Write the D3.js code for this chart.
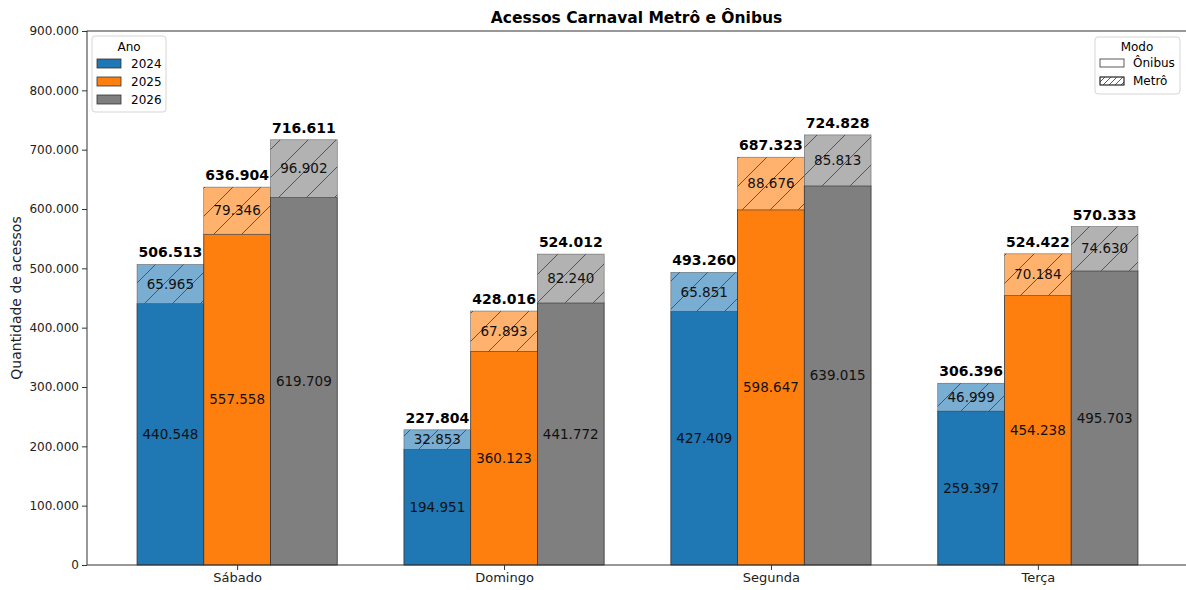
<!DOCTYPE html>
<html>
<head>
<meta charset="utf-8">
<script src="https://cdn.jsdelivr.net/npm/d3@7"></script>
<style>
  body { margin: 0; background: #fff; }
  svg { font-family: "DejaVu Sans", sans-serif; }
</style>
</head>
<body>
<div id="chart"></div>
<script>
const width = 1186, height = 590;

// data
const days = ["Sábado", "Domingo", "Segunda", "Terça"];
const years = ["2024", "2025", "2026"];
const onibus = {
  "2024": [440548, 194951, 427409, 259397],
  "2025": [557558, 360123, 598647, 454238],
  "2026": [619709, 441772, 639015, 495703]
};
const metro = {
  "2024": [65965, 32853, 65851, 46999],
  "2025": [79346, 67893, 88676, 70184],
  "2026": [96902, 82240, 85813, 74630]
};
const yTicks = [0, 100000, 200000, 300000, 400000, 500000, 600000, 700000, 800000, 900000];

const colors = { "2024": "#1f77b4", "2025": "#ff7f0e", "2026": "#7f7f7f" };
const lightColors = { "2024": "#79add2", "2025": "#ffb26e", "2026": "#b2b2b2" };

const fmt = v => d3.format(",")(v).replace(/,/g, ".");

const svg = d3.select("#chart").append("svg")
    .attr("width", width)
    .attr("height", height);

const plot = { left: 87, right: 1188, top: 31, bottom: 565 };
const barW = 0.25;

const x = d3.scaleLinear()
    .domain([-0.5625, 3.5625])
    .range([plot.left, plot.right]);

const y = d3.scaleLinear()
    .domain([0, 900000])
    .range([plot.bottom, plot.top]);

// hatch pattern
const defs = svg.append("defs");
const hatch = defs.append("pattern")
    .attr("id", "hatch")
    .attr("patternUnits", "userSpaceOnUse")
    .attr("width", 28)
    .attr("height", 28);
hatch.append("path")
    .attr("d", "M0,28 L28,0 M-7,7 L7,-7 M21,35 L35,21")
    .attr("stroke", "#4a4a4a")
    .attr("stroke-width", 0.9);

const hatchSmall = defs.append("pattern")
    .attr("id", "hatchSmall")
    .attr("patternUnits", "userSpaceOnUse")
    .attr("width", 6)
    .attr("height", 6);
hatchSmall.append("path")
    .attr("d", "M0,6 L6,0 M-1.5,1.5 L1.5,-1.5 M4.5,7.5 L7.5,4.5")
    .attr("stroke", "#333")
    .attr("stroke-width", 0.8);

// bars
years.forEach((yr, j) => {
  const off = (j - 1) * barW;
  const g = svg.append("g");
  days.forEach((day, i) => {
    const x0 = x(i + off - barW / 2), x1 = x(i + off + barW / 2);
    const bw = x1 - x0;
    const o = onibus[yr][i], m = metro[yr][i];
    const tot = o + m;

    g.append("rect")
        .attr("x", x0).attr("width", bw)
        .attr("y", y(o)).attr("height", y(0) - y(o))
        .attr("fill", colors[yr])
        .attr("stroke", "#333").attr("stroke-width", 0.8);

    g.append("rect")
        .attr("x", x0).attr("width", bw)
        .attr("y", y(tot)).attr("height", y(o) - y(tot))
        .attr("fill", lightColors[yr]);
    g.append("rect")
        .attr("x", x0).attr("width", bw)
        .attr("y", y(tot)).attr("height", y(o) - y(tot))
        .attr("fill", "url(#hatch)")
        .attr("stroke", "#555").attr("stroke-width", 0.5);

    g.append("text")
        .attr("x", (x0 + x1) / 2).attr("y", y(o / 2))
        .attr("dy", "0.35em")
        .attr("text-anchor", "middle")
        .attr("font-size", 13.5)
        .attr("fill", "#111")
        .text(fmt(o));

    g.append("text")
        .attr("x", (x0 + x1) / 2).attr("y", y(o + m / 2))
        .attr("dy", "0.35em")
        .attr("text-anchor", "middle")
        .attr("font-size", 13.5)
        .attr("fill", "#111")
        .text(fmt(m));

    g.append("text")
        .attr("x", (x0 + x1) / 2).attr("y", y(tot) - 7)
        .attr("text-anchor", "middle")
        .attr("font-size", 14)
        .attr("font-weight", "bold")
        .attr("fill", "#000")
        .text(fmt(tot));
  });
});

// axes
const yAxis = d3.axisLeft(y)
    .tickValues(yTicks)
    .tickFormat(d => d === 0 ? "0" : fmt(d))
    .tickSize(5)
    .tickPadding(3);
const yg = svg.append("g")
    .attr("transform", `translate(${plot.left},0)`)
    .call(yAxis);
yg.select(".domain").remove();
yg.selectAll("text").attr("font-size", 12).attr("fill", "#222").style("font-family", "DejaVu Sans");
yg.selectAll("line").attr("stroke", "#333");

const xAxis = d3.axisBottom(x)
    .tickValues(d3.range(days.length))
    .tickFormat(i => days[i])
    .tickSize(5)
    .tickPadding(3);
const xg = svg.append("g")
    .attr("transform", `translate(0,${plot.bottom})`)
    .call(xAxis);
xg.select(".domain").remove();
xg.selectAll("text").attr("font-size", 13).attr("fill", "#222").style("font-family", "DejaVu Sans");
xg.selectAll("line").attr("stroke", "#333");

// frame
svg.append("rect")
    .attr("x", plot.left).attr("y", plot.top)
    .attr("width", plot.right - plot.left).attr("height", plot.bottom - plot.top)
    .attr("fill", "none")
    .attr("stroke", "#333").attr("stroke-width", 1);

// title & label
svg.append("text")
    .attr("x", (plot.left + plot.right) / 2 - 1).attr("y", 23)
    .attr("text-anchor", "middle")
    .attr("font-size", 15.5)
    .attr("font-weight", "bold")
    .text("Acessos Carnaval Metrô e Ônibus");

svg.append("text")
    .attr("transform", `translate(21,${(plot.top + plot.bottom) / 2}) rotate(-90)`)
    .attr("text-anchor", "middle")
    .attr("font-size", 14)
    .attr("fill", "#222")
    .text("Quantidade de acessos");

// legend Ano
const lg = svg.append("g");
lg.append("rect")
    .attr("x", 92).attr("y", 36).attr("width", 74).attr("height", 76)
    .attr("rx", 3)
    .attr("fill", "#fff").attr("fill-opacity", 0.85)
    .attr("stroke", "#d5d5d5");
lg.append("text")
    .attr("x", 129).attr("y", 51)
    .attr("text-anchor", "middle")
    .attr("font-size", 12)
    .text("Ano");
years.forEach((yr, k) => {
  const yy = 59 + k * 18;
  lg.append("rect")
      .attr("x", 97).attr("y", yy).attr("width", 24).attr("height", 9)
      .attr("fill", colors[yr]).attr("stroke", "#333").attr("stroke-width", 0.8);
  lg.append("text")
      .attr("x", 131).attr("y", yy + 9)
      .attr("font-size", 12)
      .text(yr);
});

// legend Modo
const lm = svg.append("g");
lm.append("rect")
    .attr("x", 1095).attr("y", 37).attr("width", 85).attr("height", 57)
    .attr("rx", 3)
    .attr("fill", "#fff").attr("fill-opacity", 0.85)
    .attr("stroke", "#d5d5d5");
lm.append("text")
    .attr("x", 1137).attr("y", 51)
    .attr("text-anchor", "middle")
    .attr("font-size", 12)
    .text("Modo");
const modos = [{ name: "Ônibus", fill: "#fff" }, { name: "Metrô", fill: "url(#hatchSmall)" }];
modos.forEach((md, k) => {
  const yy = 59 + k * 18;
  lm.append("rect")
      .attr("x", 1100).attr("y", yy).attr("width", 24).attr("height", 8)
      .attr("fill", "#fff").attr("stroke", "#333").attr("stroke-width", 0.8);
  if (k === 1) {
    lm.append("rect")
        .attr("x", 1100).attr("y", yy).attr("width", 24).attr("height", 8)
        .attr("fill", md.fill).attr("stroke", "#333").attr("stroke-width", 0.8);
  }
  lm.append("text")
      .attr("x", 1133).attr("y", yy + 8)
      .attr("font-size", 12)
      .text(md.name);
});
</script>
</body>
</html>
